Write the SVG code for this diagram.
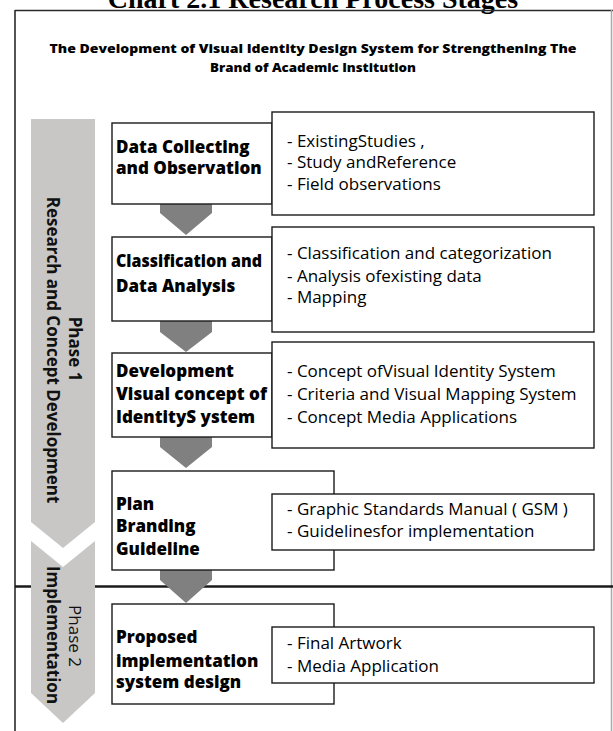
<svg xmlns="http://www.w3.org/2000/svg" width="613" height="731" viewBox="0 0 613 731">
  <style>
    .title { font-family: "Liberation Serif", "Times New Roman", serif; font-weight: bold; font-size: 28px; fill: #000; }
    .sub { font-family: "Open Sans", "Noto Sans", sans-serif; font-weight: 800; font-size: 12.5px; fill: #000; }
    .step { fill: #fff; stroke: #1a1a1a; stroke-width: 1.4; }
    .note { fill: #fff; stroke: #1a1a1a; stroke-width: 1.4; }
    .head { font-family: "Open Sans", "Noto Sans", sans-serif; font-weight: 800; font-size: 17px; fill: #000; }
    .item { font-family: "Open Sans", "Noto Sans", sans-serif; font-size: 17px; fill: #000; }
    .phase { fill: #c8c7c5; }
    .ptext { font-family: "Open Sans", "Noto Sans", sans-serif; font-size: 17px; fill: #111; text-anchor: middle; }
    .arrow { fill: #808080; }
    .frame { stroke: #2a2a2a; stroke-width: 1.6; fill: none; }
    .divider { stroke: #1a1a1a; stroke-width: 2.4; fill: none; }
  </style>

  <!-- chart caption -->
  <text class="title" x="313" y="8" text-anchor="middle">Chart 2.1 Research Process Stages</text>

  <!-- outer frame and phase divider -->
  <g id="frame">
    <line class="frame" x1="15" y1="10.5" x2="613" y2="10.5"/>
    <line class="frame" x1="15" y1="10" x2="15" y2="731"/>
    <line x1="611.5" y1="10" x2="611.5" y2="731" stroke="#a8a8a8" stroke-width="1.5"/>
    <line class="divider" x1="15" y1="586.5" x2="613" y2="586.5"/>
  </g>

  <!-- heading -->
  <g id="heading">
    <text class="sub" x="313" y="53" text-anchor="middle" textLength="527" lengthAdjust="spacingAndGlyphs">The Development of Visual Identity Design System for Strengthening The</text>
    <text class="sub" x="313" y="72" text-anchor="middle" textLength="206" lengthAdjust="spacingAndGlyphs">Brand of Academic Institution</text>
  </g>

  <!-- phase bands -->
  <g id="phase1">
    <polygon class="phase" points="31,119 95,119 95,522 63,548 31,522"/>
    <text class="ptext" font-weight="bold" transform="translate(68.5,349) rotate(90)">Phase 1</text>
    <text class="ptext" font-weight="bold" transform="translate(46.5,350) rotate(90)">Research and Concept Development</text>
  </g>
  <g id="phase2">
    <polygon class="phase" points="31,541 63,567 95,541 95,693 63,723 31,693"/>
    <text class="ptext" transform="translate(69,636) rotate(90)">Phase 2</text>
    <text class="ptext" font-weight="bold" font-size="18" transform="translate(46.5,635) rotate(90)">Implementation</text>
  </g>

  <!-- flow arrows between steps -->
  <g id="connectors">
    <polygon class="arrow" points="160,202 212,202 212,213 186,235 160,213"/>
    <polygon class="arrow" points="160,321 212,321 212,332 186,352 160,332"/>
    <polygon class="arrow" points="160,437 212,437 212,447 186,468 160,447"/>
    <polygon class="arrow" points="160,570 212,570 212,580 186,603 160,580"/>
  </g>

  <!-- step 1 -->
  <g id="step1">
    <rect class="step" x="112" y="123" width="160" height="81"/>
    <text class="head" x="116" y="153">Data Collecting</text>
    <text class="head" x="116" y="174">and Observation</text>
  </g>
  <g id="notes1">
    <rect class="note" x="272" y="112" width="322" height="103"/>
    <text class="item" x="287" y="146.7">- ExistingStudies ,</text>
    <text class="item" x="287" y="168.3">- Study andReference</text>
    <text class="item" x="287" y="190">- Field observations</text>
  </g>

  <!-- step 2 -->
  <g id="step2">
    <rect class="step" x="112" y="237" width="160" height="84"/>
    <text class="head" x="116" y="266.7" textLength="146" lengthAdjust="spacingAndGlyphs">Classification and</text>
    <text class="head" x="116" y="291.7">Data Analysis</text>
  </g>
  <g id="notes2">
    <rect class="note" x="272" y="227" width="322" height="105"/>
    <text class="item" x="287" y="259.3">- Classification and categorization</text>
    <text class="item" x="287" y="281.7">- Analysis ofexisting data</text>
    <text class="item" x="287" y="303.3">- Mapping</text>
  </g>

  <!-- step 3 -->
  <g id="step3">
    <rect class="step" x="112" y="353" width="160" height="84"/>
    <text class="head" x="116" y="376.7">Development</text>
    <text class="head" x="116" y="400" textLength="151" lengthAdjust="spacingAndGlyphs">Visual concept of</text>
    <text class="head" x="116" y="423">IdentityS ystem</text>
  </g>
  <g id="notes3">
    <rect class="note" x="272" y="342" width="322" height="106"/>
    <text class="item" x="287" y="376.7">- Concept ofVisual Identity System</text>
    <text class="item" x="287" y="400">- Criteria and Visual Mapping System</text>
    <text class="item" x="287" y="423.3">- Concept Media Applications</text>
  </g>

  <!-- step 4 -->
  <g id="step4">
    <rect class="step" x="112" y="471" width="222" height="99"/>
    <text class="head" x="116" y="510">Plan</text>
    <text class="head" x="116" y="531.7">Branding</text>
    <text class="head" x="116" y="555">Guideline</text>
  </g>
  <g id="notes4">
    <rect class="note" x="272" y="494" width="322" height="56"/>
    <text class="item" x="287" y="515">- Graphic Standards Manual ( GSM )</text>
    <text class="item" x="287" y="536.7">- Guidelinesfor implementation</text>
  </g>

  <!-- step 5 -->
  <g id="step5">
    <rect class="step" x="112" y="604" width="222" height="100"/>
    <text class="head" x="116" y="643.3">Proposed</text>
    <text class="head" x="116" y="666.7">implementation</text>
    <text class="head" x="116" y="688.3">system design</text>
  </g>
  <g id="notes5">
    <rect class="note" x="272" y="627" width="322" height="56"/>
    <text class="item" x="287" y="649.3">- Final Artwork</text>
    <text class="item" x="287" y="671.7">- Media Application</text>
  </g>
</svg>
